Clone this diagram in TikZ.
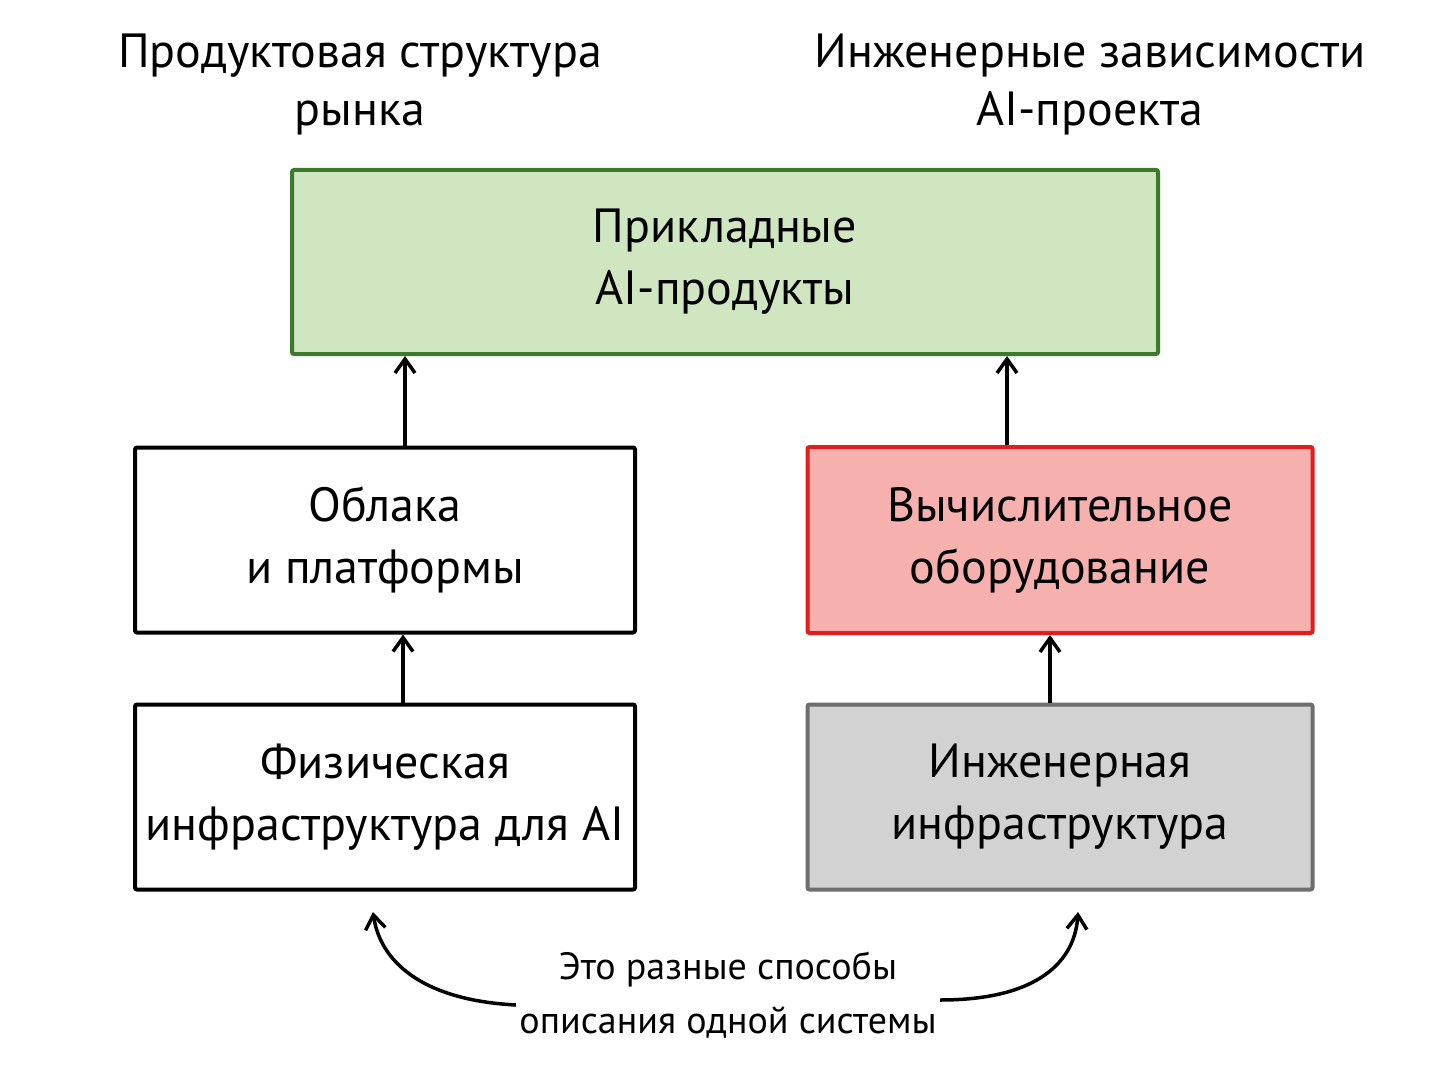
\documentclass[tikz,border=0pt]{standalone}
\usepackage{fontspec}
\setmainfont{PT Sans}
\usetikzlibrary{arrows.meta}
\definecolor{gfill}{HTML}{CFE6C0}
\definecolor{gline}{HTML}{3B7A2A}
\definecolor{rfill}{HTML}{F6B0AE}
\definecolor{rline}{HTML}{E01E1E}
\definecolor{kfill}{HTML}{D2D2D2}
\definecolor{kline}{HTML}{6E6E6E}
\begin{document}
\begin{tikzpicture}[x=1pt,y=-1pt,
  box/.style={draw,line width=4pt,rounded corners=2pt,align=center,font=\fontsize{48}{62}\selectfont},
  ttl/.style={align=center,font=\fontsize{48}{58}\selectfont},
  arr/.style={line width=3.5pt,-{Straight Barb[length=14pt,width=20pt,line width=3.5pt]}}]
\useasboundingbox (0,0) rectangle (1448,1086);
\fill[white] (0,0) rectangle (1448,1086);
\node[ttl] (t1) at (360,85) {Продуктовая структура\\рынка};
\node[ttl] (t2) at (1090,85) {Инженерные зависимости\\AI-проекта};
\node[box,draw=gline,fill=gfill,minimum width=866pt,minimum height=184pt] (g) at (725,262) {Прикладные\\AI-продукты};
\node[box,fill=white,minimum width=500pt,minimum height=185pt] (c) at (385,540) {Облака\\и платформы};
\node[box,draw=rline,fill=rfill,minimum width=505pt,minimum height=186pt] (r) at (1060,540) {Вычислительное\\оборудование};
\node[box,fill=white,minimum width=500pt,minimum height=185pt] (p) at (385,797) {Физическая\\инфраструктура для AI};
\node[box,draw=kline,fill=kfill,minimum width=505pt,minimum height=185pt] (k) at (1060,797) {Инженерная\\инфраструктура};
\node[align=center,font=\fontsize{38}{54}\selectfont] (b) at (728,995) {Это разные способы\\описания одной системы};
\draw[arr] (c.north -| 405,0) -- (g.south -| 405,0);
\draw[arr] (r.north -| 1007,0) -- (g.south -| 1007,0);
\draw[arr] (p.north -| 403,0) -- (c.south -| 403,0);
\draw[arr] (k.north -| 1050,0) -- (r.south -| 1050,0);
\coordinate (la) at (373,912);
\coordinate (ra) at (1078,912);
\draw[arr] (b.west |- 0,1005) .. controls (420,1000) and (380,960) .. (la);
\draw[arr] (b.east |- 0,1000) .. controls (1040,1000) and (1075,960) .. (ra);
\end{tikzpicture}
\end{document}
